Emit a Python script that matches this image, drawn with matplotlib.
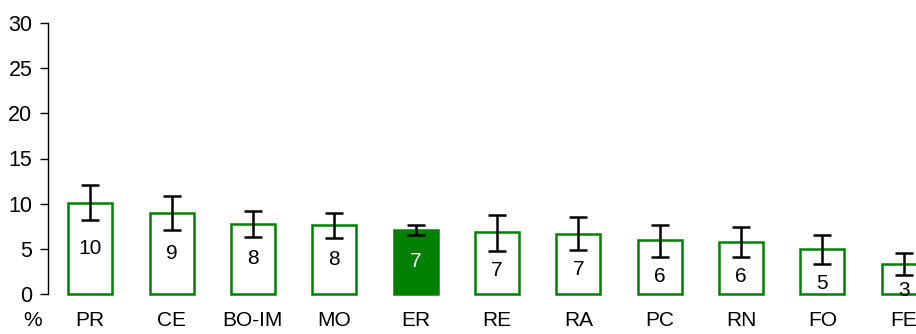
import matplotlib
matplotlib.use("Agg")
import matplotlib.pyplot as plt
import numpy as np

plt.rcParams['font.family'] = ['Liberation Sans', 'DejaVu Sans']

categories = ["PR", "CE", "BO-IM", "MO", "ER", "RE", "RA", "PC", "RN", "FO", "FE"]
values = [10.1, 9.0, 7.8, 7.6, 7.15, 6.85, 6.7, 5.95, 5.8, 4.95, 3.3]
err_low = [8.2, 7.1, 6.35, 6.2, 6.55, 4.8, 4.85, 4.15, 4.1, 3.35, 2.15]
err_high = [12.05, 10.85, 9.15, 9.0, 7.65, 8.8, 8.55, 7.7, 7.45, 6.6, 4.55]
labels = ["10", "9", "8", "8", "7", "7", "7", "6", "6", "5", "3"]
highlight = "ER"

green = "#008000"
fig = plt.figure(figsize=(9.16, 3.34), dpi=100)
ax = fig.add_axes([48.3 / 916, 1 - 294.3 / 334, 1 - 48.3 / 916, (294.3 - 22.7) / 334])

x = np.arange(len(categories))
for i, c in enumerate(categories):
    filled = c == highlight
    ax.bar(x[i], values[i], width=0.54, facecolor=green if filled else "white",
           edgecolor=green, linewidth=1.8, zorder=2, clip_on=False)
    yerr = [[values[i] - err_low[i]], [err_high[i] - values[i]]]
    ax.errorbar(x[i], values[i], yerr=yerr, fmt="none", ecolor="black",
                elinewidth=1.8, capsize=6.5, capthick=1.8, zorder=3, clip_on=False)
    ly = max(min(values[i] / 2, err_low[i] - 2.15), 0.4)
    ax.text(x[i], ly, labels[i], ha="center", va="center", fontsize=15,
            color="white" if filled else "black", zorder=4, clip_on=False)

ax.set_xlim(-0.515, 10.15)
ax.set_ylim(0, 30)
ax.set_yticks(np.arange(0, 31, 5))
ax.set_xticks(x)
ax.set_xticklabels(categories)
ax.tick_params(axis="x", length=0, pad=12, labelsize=15)
ax.tick_params(axis="y", length=6, width=1, labelsize=15.5, pad=5.5)
for s in ["top", "right", "bottom"]:
    ax.spines[s].set_visible(False)
ax.spines["left"].set_linewidth(1)
ref_lbl = ax.get_xticklabels()[0]
fig.canvas.draw()
bb = ref_lbl.get_window_extent()
fig.text(33 / 916, bb.y0 / fig.bbox.height, "%", ha="center", va="bottom", fontsize=15)

fig.savefig("out.png", dpi=100)
